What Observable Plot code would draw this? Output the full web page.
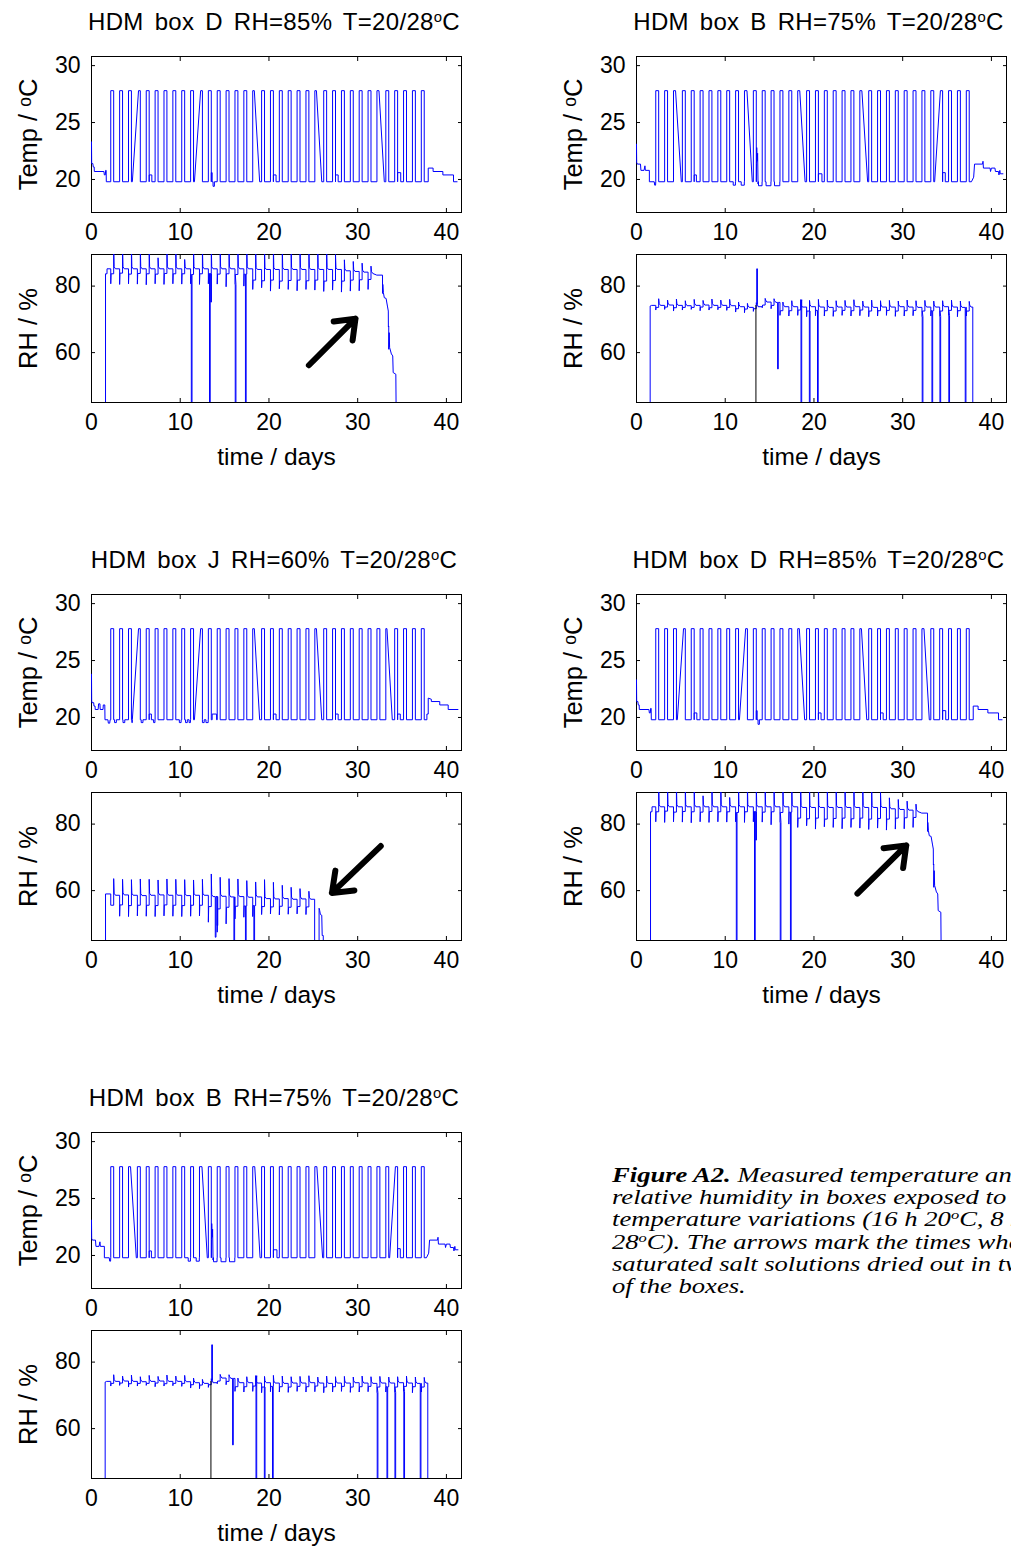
<!DOCTYPE html>
<html><head><meta charset="utf-8">
<script src="https://cdn.jsdelivr.net/npm/d3@7"></script>
<script src="https://cdn.jsdelivr.net/npm/@observablehq/plot@0.6"></script>
<style>
html,body{margin:0;padding:0;background:#fff;overflow:hidden;}
body{width:1011px;height:1547px;position:relative;font-family:"Liberation Sans",Arial,sans-serif;color:#000;}
.panel{position:absolute;}
.title{position:absolute;font-size:24px;white-space:nowrap;transform:translate(-50%,-50%);word-spacing:4px;letter-spacing:0.3px;}
.title sup{font-size:0.62em;line-height:0;vertical-align:0.55em;}
.caption sup{font-size:0.62em;line-height:0;vertical-align:0.6em;}
.caption{position:absolute;left:612px;top:1164px;font-family:"Liberation Serif","Times New Roman",serif;font-style:italic;font-size:20px;line-height:22.2px;white-space:nowrap;transform:scaleX(1.33);transform-origin:0 0;}
</style></head><body>
<div id="root"></div>
<script>
// ---------------- data ----------------
const xTicks = [0, 10, 20, 30, 40];
const tempTicks = [20, 25, 30];
const rhTicks = [60, 80];

const titleD = "HDM box D RH=85% T=20/28";
const titleB = "HDM box B RH=75% T=20/28";
const titleJ = "HDM box J RH=60% T=20/28";

// daily climate cycle: start and end of the 8 h 28 °C phase (days)
const cycleRise = [2.17,3.17,4.17,5.17,6.17,7.17,8.17,9.17,10.17,11.17,12.17,13.17,14.17,15.17,16.17,17.17,18.17,19.17,20.17,21.17,22.17,23.17,24.17,25.17,26.17,27.17,28.17,29.17,30.17,31.17,32.17,33.17,34.17,35.17,36.17,37.17];
const cycleFall = [2.5,3.5,4.5,5.5,6.5,7.5,8.5,9.5,10.5,11.5,12.5,13.5,14.5,15.5,16.5,17.5,18.5,19.5,20.5,21.5,22.5,23.5,24.5,25.5,26.5,27.5,28.5,29.5,30.5,31.5,32.5,33.5,34.5,35.5,36.5,37.5];
const tempHigh = 27.8;
const tempLow = 19.8;

// box D temperature
const tempStartD = [[0,23.3],[0.02,21.4],[0.15,21.4],[0.2,21.1],[0.3,21.1],[0.32,20.7],[1.4,20.7],[1.45,20.4],[1.55,20.4],[1.6,20.8],[1.65,20.8],[1.67,19.8]];
const tempEndD = [[37.95,19.8],[37.95,21.0],[38.5,21.0],[38.5,20.7],[39.6,20.7],[39.6,20.4],[40.8,20.4],[40.8,19.8],[41.2,19.8]];
const tempBumpsD = [[6.5,6.8,20.4],[13.5,13.6,20.6],[13.7,13.85,19.4],[20.5,20.8,20.4],[27.5,27.8,20.4],[34.5,34.85,20.6]];
const tempGapsD = [[4.6,5.3],[11.6,12.3],[18.35,18.95],[25.35,25.95],[32.4,33.0]];

// box B temperature
const tempStartB = [[0,23.1],[0.02,21.5],[0.1,21.35],[0.45,21.35],[0.5,20.8],[0.85,20.8],[0.95,21.2],[1.0,20.8],[1.45,20.8],[1.45,19.8],[2.0,19.8],[2.05,19.5],[2.15,19.5]];
const tempEndB = [[37.75,19.8],[38.0,20.2],[38.1,21.35],[39.0,21.35],[39.05,21.6],[39.1,21.0],[39.85,21.0],[39.9,20.7],[40.0,21.0],[40.4,21.0],[40.45,20.7],[40.8,20.7],[40.85,20.4],[40.95,20.8],[41.0,20.5],[41.3,20.5]];
const tempBumpsB = [[6.5,6.75,20.4],[10.9,11.15,19.5],[11.8,12.15,19.5],[13.75,14.15,19.45],[14.6,15.15,19.45],[15.55,16.15,19.45],[20.5,20.9,20.5],[34.5,34.8,20.6]];
const tempGapsB = [[4.4,5.05],[12.45,13.05],[13.51,13.72,[[13.52,21.4],[13.55,22.8],[13.6,21.6],[13.65,22.3],[13.7,19.6]]],[18.4,19.0],[25.4,26.05],[33.6,34.25]];

// box J temperature
const tempStartJ = [[0,23.8],[0.02,21.5],[0.05,21.3],[0.25,21.3],[0.28,21.0],[0.4,21.0],[0.42,20.7],[0.75,20.7],[0.8,21.2],[0.95,21.2],[0.98,20.7],[1.3,20.7],[1.33,21.1],[1.5,21.1],[1.52,19.8],[1.85,19.8],[1.9,19.5],[2.05,19.5],[2.1,19.8]];
const tempEndJ = [[37.8,19.8],[37.8,20.3],[37.95,20.3],[37.95,21.7],[38.3,21.6],[38.3,21.4],[39.25,21.4],[39.25,21.1],[40.2,21.1],[40.2,20.7],[41.3,20.7]];
const tempBumpsJ = [[2.6,2.8,19.55],[3.55,3.75,19.55],[4.55,4.6,19.55],[5.6,5.8,19.55],[6.5,6.75,20.3],[7.0,7.15,19.55],[9.9,10.1,19.55],[10.6,10.8,19.55],[11.0,11.15,19.55],[12.5,12.7,19.55],[12.9,13.15,19.55],[13.6,14.1,20.3],[20.5,20.8,20.3],[27.5,27.8,20.3],[34.5,34.8,20.3]];
const tempGapsJ = [[4.6,5.3],[11.6,12.3],[18.35,18.95],[25.35,25.95],[33.3,33.9]];

// RH box D: per-cycle levels, days 2..31
const rhBaseD  = [85.2,85.2,85.2,85.2,85.2,85.2,85.2,85.2,85.2,85.2,85.2,85.2,85.2,85.2,85.2,85.2, 85.0,85.0,85.0,85.0,85.0,85.0,85.0,85.0,85.0,85.0, 84.6,84.4,84.2,83.8];
const rhDipD   = [80.7,80.5,80.7,80.6,80.4,80.7,80.5,80.7,80.6,80.7,80.5,80.7,80.6,79.8,80.5,80.0, 79.0,79.5,78.5,79.2,79.0,78.6,79.0,78.8,78.4,78.8, 78.2,78.5,78.6,79.0];
const rhMidD   = [83.7,83.9,83.6,83.8,83.7,83.6,83.8,83.7,83.7,83.5,83.7,83.8,83.6,83.7,83.5,83.6, 81.8,81.6,81.8,81.5,81.7,81.8,81.6,81.8,81.5,81.7, 81.5,81.8,81.9,82.0];
const rhSpikeD = [92,92,92,92,92,88.5,92,92,88,92,92,92,92,92,92,92, 92,92,92,92,92,92,92,92,92,89.5, 87.9,87.4,86.9,86.0];
const rhStartD = [[1.58,30],[1.58,83.7],[1.75,83.7],[1.75,85.2]];
const rhEventsD = [[11.25,30],[13.3,30],[13.44,75.2],[16.2,30],[17.35,30]];
const rhTailD = [[32.15,83.3],[32.8,83.3],[32.8,77.8],[32.83,80.5],[32.9,78.0],[33.0,76.5],[33.2,76.3],[33.35,74.0],[33.45,72.5],[33.46,67.7],[33.5,68.0],[33.5,61.0],[33.55,66.0],[33.6,61.5],[33.8,59.6],[33.95,59.0],[34.0,54.0],[34.3,53.5],[34.37,30]];

// RH box B: per-cycle levels, days 2..37
const rhBaseB  = [74.2,74.3,74.2,74.1,74.2,74.3,74.2,74.2,74.1, 73.8,73.6,73.8, 75.2,75.1, 73.8, 73.8,73.7,73.8,73.7,73.6,73.7,73.7,73.8,73.7,73.6,73.7,73.7,73.8,73.7,73.6,73.7,73.7,73.8,73.7,73.6,73.7];
const rhDipB   = [72.8,73.0,72.5,72.8,73.0,72.6,72.8,72.9,72.7, 72.2,72.0,72.4, 73.5,73.2, 71.2, 71.0,71.2,70.8,71.1,71.0,70.9,71.2,71.0,71.1,70.8,71.0,71.2,70.9,71.0,71.1,70.8,71.0,70.9,71.1,70.8,71.0];
const rhMidB   = [73.6,73.7,73.5,73.6,73.6,73.7,73.5,73.6,73.6, 73.2,73.1,73.2, 74.3,74.2, 72.6, 72.6,72.8,72.5,72.7,72.6,72.5,72.7,72.6,72.8,72.5,72.6,72.7,72.5,72.6,72.7,72.5,72.6,72.5,72.7,72.6,72.5];
const rhSpikeB = [76.2,75.8,76.1,75.6,76.0,75.7,76.1,75.8,76.0, 75.2,74.8,75.0, 76.3,76.2, 75.2, 75.6,75.9,75.7,76.0,75.8,75.6,75.7,75.9,75.5,75.8,75.6,75.7,75.5,75.8,75.6,75.7,75.5,75.6,75.8,75.5,75.4];
const rhStartB = [[1.54,30],[1.54,74.0],[1.7,74.2],[2.1,74.2]];
const rhEventsB = [[13.55,85.2],[15.9,55.1],[18.54,30],[19.48,30],[20.4,30],[32.2,30],[33.3,30],[34.2,30],[35.2,30],[37.05,30]];
const rhTailB = [[37.9,73.7],[37.9,30]];
const rhDarkLineB = [[13.46,30],[13.46,74.2]];

// RH box J: per-cycle levels, days 2..24
const rhBaseJ  = [58.6,58.7,58.6,58.5,58.6,58.7,58.6,58.6,58.5,58.6,58.6, 58.2,58.3,58.1,58.2,58.0,58.1, 57.6,57.5,57.6,57.4,57.5,57.4];
const rhDipJ   = [55.6,52.3,52.2,52.4,52.3,52.2,52.4,52.3,52.2,52.3,52.4, 50.5,47.5,50.0,51.5,52.0,52.2, 52.8,53.0,52.7,52.9,53.0,52.8];
const rhMidJ   = [55.6,55.7,55.5,55.6,55.6,55.5,55.7,55.6,55.5,55.6,55.6, 55.2,54.5,55.0,55.3,55.4,55.5, 55.2,55.1,55.3,55.0,55.2,55.1];
const rhSpikeJ = [63.6,63.4,63.3,63.5,63.4,63.2,63.5,63.4,63.3,63.2,63.4, 65.0,64.0,63.6,63.5,63.0,62.6, 63.3,62.5,61.6,61.0,60.6,59.8];
const rhStartJ = [[1.58,30],[1.58,59.0],[2.1,59.0]];
const rhEventsJ = [[13.95,46],[14.15,49.5],[16.05,30],[17.35,30],[18.3,30]];
const rhTailJ = [[25.15,57.4],[25.15,30],[25.65,30],[25.65,54.7],[25.72,54.0],[25.8,52.8],[25.95,52.6],[26.0,46.5],[26.12,46.5],[26.15,30]];

// annotation arrows: [x1 (days), y1 (RH %), x2, y2]
const arrowD1 = [24.5, 56.2, 29.75, 70.2];
const arrowD2 = [24.9, 59.1, 30.4, 73.6];
const arrowJ  = [32.6, 73.4, 27.1, 59.3];

// ---------------- builders ----------------
function valueAt(pts, t) {
  let v = pts[0][1];
  for (const p of pts) { if (p[0] <= t) v = p[1]; else break; }
  return v;
}
function buildTemp(start, end, bumps, gaps) {
  let pts = start.map(d => d.slice());
  for (let i = 0; i < cycleRise.length; i++) {
    const r = cycleRise[i], f = cycleFall[i];
    pts.push([r, tempLow], [r, tempHigh], [f, tempHigh], [f, tempLow]);
    const next = i + 1 < cycleRise.length ? cycleRise[i + 1] : end[0][0];
    bumps.filter(b => b[0] >= f && b[0] < next).sort((a, b) => a[0] - b[0])
      .forEach(([a, b, v]) => pts.push([a, tempLow], [a, v], [b, v], [b, tempLow]));
  }
  pts = pts.concat(end.map(d => d.slice()));
  for (const g of gaps) {
    const [a, b, extra = []] = g;
    const va = valueAt(pts, a), vb = valueAt(pts, b);
    const i0 = pts.findIndex(p => p[0] > a);
    const i1 = pts.findIndex(p => p[0] >= b);
    pts.splice(i0, i1 - i0, [a, va], ...extra, [b, vb]);
  }
  return pts.map(([t, v]) => ({t, v}));
}
function buildRH(start, base, dip, mid, spike, events, tail) {
  let pts = start.map(d => d.slice());
  for (let i = 0; i < base.length; i++) {
    const r = cycleRise[i], f = cycleFall[i];
    const prev = pts[pts.length - 1][1];
    pts.push([r, prev], [r, dip[i]], [r + 0.04, mid[i]], [f, mid[i]], [f, spike[i]], [f + 0.05, base[i] + 0.6], [f + 0.2, base[i]]);
  }
  const t0 = tail[0][0];
  pts = pts.filter(p => p[0] < t0).concat(tail.map(d => d.slice()));
  for (const [t, v] of events) {
    const idx = pts.findIndex(p => p[0] > t);
    const cur = pts[idx - 1][1];
    pts.splice(idx, 0, [t, cur], [t, v], [t + 0.08, v], [t + 0.08, cur]);
  }
  return pts.map(([t, v]) => ({t, v}));
}

const tempD = buildTemp(tempStartD, tempEndD, tempBumpsD, tempGapsD);
const tempB = buildTemp(tempStartB, tempEndB, tempBumpsB, tempGapsB);
const tempJ = buildTemp(tempStartJ, tempEndJ, tempBumpsJ, tempGapsJ);
const rhD = buildRH(rhStartD, rhBaseD, rhDipD, rhMidD, rhSpikeD, rhEventsD, rhTailD);
const rhB = buildRH(rhStartB, rhBaseB, rhDipB, rhMidB, rhSpikeB, rhEventsB, rhTailB);
const rhJ = buildRH(rhStartJ, rhBaseJ, rhDipJ, rhMidJ, rhSpikeJ, rhEventsJ, rhTailJ);

// ---------------- layout ----------------
const ROW = 538;
const colFrameLeft = [91, 635.5];
const frameW = 370;
const tempTop = 56, tempH = 156;
const rhTop = 254, rhH = 148;
const M = {top: 10, left: 91, right: 10};
const font = '"Liberation Sans", Arial, sans-serif';
const noLabel = () => "";

const panels = [
  {col: 0, row: 0, title: titleD, temp: tempD, rh: rhD, arrow: arrowD1},
  {col: 1, row: 0, title: titleB, temp: tempB, rh: rhB, dark: rhDarkLineB},
  {col: 0, row: 1, title: titleJ, temp: tempJ, rh: rhJ, arrow: arrowJ},
  {col: 1, row: 1, title: titleD, temp: tempD, rh: rhD, arrow: arrowD2},
  {col: 0, row: 2, title: titleB, temp: tempB, rh: rhB, dark: rhDarkLineB}
];

function axes(yTicks) {
  return [
    Plot.frame({stroke: "black", strokeWidth: 1}),
    Plot.axisX({anchor: "bottom", ticks: xTicks, tickSize: -4, tickPadding: 15, fontSize: 23, label: null}),
    Plot.axisX({anchor: "top", ticks: xTicks, tickSize: -4, tickFormat: noLabel, label: null}),
    Plot.axisY({anchor: "left", ticks: yTicks, tickSize: -4, tickPadding: 15, fontSize: 23, label: null}),
    Plot.axisY({anchor: "right", ticks: yTicks, tickSize: -4, tickFormat: noLabel, label: null})
  ];
}
function axisLabels(yLabel, xLabel) {
  const out = [
    Plot.axisY({anchor: "left", ticks: [], tickSize: 0, fontSize: 25.5,
      label: yLabel, labelAnchor: "center", labelOffset: 73, labelArrow: "none"})
  ];
  if (xLabel) out.push(Plot.axisX({anchor: "bottom", ticks: [], tickSize: 0, fontSize: 24.5,
      label: xLabel, labelAnchor: "center", labelOffset: 62, labelArrow: "none"}));
  return out;
}

const root = document.getElementById("root");
function place(el, left, top, w) {
  const d = document.createElement("div");
  d.className = "panel";
  d.style.left = left + "px"; d.style.top = top + "px"; d.style.width = w + "px";
  d.appendChild(el); root.appendChild(d);
}

for (const p of panels) {
  const fl = colFrameLeft[p.col];
  const oy = p.row * ROW;
  const W = M.left + frameW + M.right;
  const t = document.createElement("div");
  t.className = "title";
  t.style.left = (fl + 183) + "px";
  t.style.top = (22 + oy) + "px";
  t.innerHTML = p.title + "<sup>o</sup>C";
  root.appendChild(t);

  const tempPlot = Plot.plot({
    width: W, height: M.top + tempH + 40,
    marginTop: M.top, marginLeft: M.left, marginRight: M.right, marginBottom: 40,
    style: {fontFamily: font, fontSize: "23px", background: "transparent", overflow: "visible"},
    x: {domain: [0, 41.7]},
    y: {domain: [17.1, 30.8]},
    marks: [
      ...axes(tempTicks),
      ...axisLabels("Temp / \u1D52C", null),
      Plot.line(p.temp, {x: "t", y: "v", stroke: "#0000ff", strokeWidth: 1, clip: true})
    ]
  });
  place(tempPlot, fl - M.left, tempTop - M.top + oy, W);

  const rhMarks = [
    ...axes(rhTicks),
    ...axisLabels("RH / %", "time / days"),
    Plot.line(p.rh, {x: "t", y: "v", stroke: "#0000ff", strokeWidth: 1, clip: true})
  ];
  if (p.dark) rhMarks.push(Plot.line(p.dark, {x: d => d[0], y: d => d[1], stroke: "#000", strokeWidth: 1, clip: true}));
  if (p.arrow) rhMarks.push(Plot.arrow([p.arrow], {x1: d => d[0], y1: d => d[1], x2: d => d[2], y2: d => d[3],
    stroke: "black", strokeWidth: 6, headLength: 6, headAngle: 75}));
  const rhPlot = Plot.plot({
    width: W, height: M.top + rhH + 80,
    marginTop: M.top, marginLeft: M.left, marginRight: M.right, marginBottom: 80,
    style: {fontFamily: font, fontSize: "23px", background: "transparent", overflow: "visible"},
    x: {domain: [0, 41.7]},
    y: {domain: [45, 89.5]},
    marks: rhMarks
  });
  place(rhPlot, fl - M.left, rhTop - M.top + oy, W);
}

const cap = document.createElement("div");
cap.className = "caption";
cap.innerHTML = "<b>Figure A2.</b> Measured temperature and<br>relative humidity in boxes exposed to<br>temperature variations (16 h 20<sup>o</sup>C, 8 h<br>28<sup>o</sup>C). The arrows mark the times when<br>saturated salt solutions dried out in two<br>of the boxes.";
root.appendChild(cap);
</script>
</body></html>
